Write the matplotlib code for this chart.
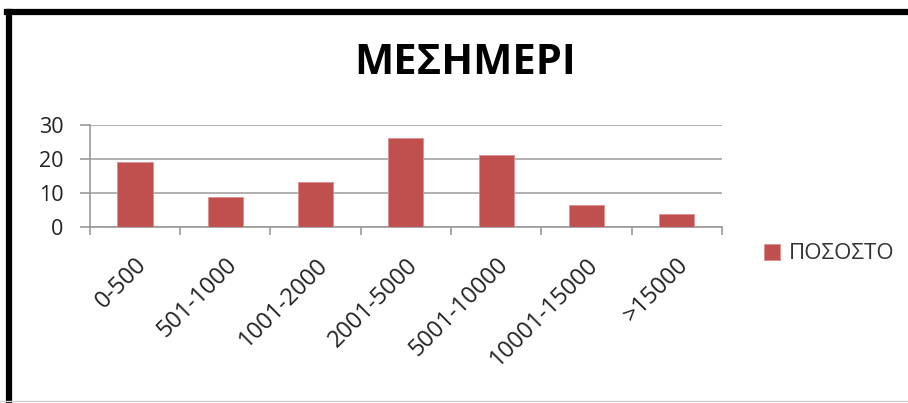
import matplotlib.pyplot as plt
from matplotlib.lines import Line2D

# data
categories = ['0-500', '501-1000', '1001-2000', '2001-5000', '5001-10000', '10001-15000', '>15000']
values = [19, 8.7, 13.2, 26.1, 21.1, 6.4, 3.7]
series_name = 'ΠΟΣΟΣΤΟ'
chart_title = 'ΜΕΣΗΜΕΡΙ'

plt.rcParams['font.family'] = ['Open Sans', 'DejaVu Sans']

fig = plt.figure(figsize=(9.08, 4.03), dpi=100)
ax = fig.add_axes([0.099, 0.4375, 0.696, 0.2525])

x = range(len(categories))
ax.bar(x, values, width=0.39, color='#C0504D', edgecolor='#D9908E', linewidth=0.6,
       label=series_name, zorder=3)

ax.set_xlim(-0.5, len(categories) - 0.5)
ax.set_ylim(0, 30)
ax.set_yticks([0, 10, 20, 30])
ax.yaxis.grid(True, color='#ABABAB', linewidth=1.3, zorder=0)

# category boundary ticks
ax.set_xticks([i - 0.5 for i in range(len(categories) + 1)])
ax.set_xticklabels([])
ax.set_xticks(list(x), minor=True)
ax.set_xticklabels(categories, minor=True, rotation=45, ha='right', rotation_mode='anchor',
                   fontsize=17, color='#222222')
ax.tick_params(axis='x', which='major', length=6, color='#9A9A9A', width=1.2)
ax.tick_params(axis='x', which='minor', length=0, pad=19)
ax.tick_params(axis='y', length=7, color='#9A9A9A', width=1.2, pad=12, labelsize=15.5,
               labelcolor='#222222')

for s in ['top', 'right']:
    ax.spines[s].set_visible(False)
for s in ['left', 'bottom']:
    ax.spines[s].set_color('#9A9A9A')
    ax.spines[s].set_linewidth(1.2)

fig.text(0.512, 0.843, chart_title, ha='center', va='center', fontsize=30,
         fontweight='bold', color='black')

leg = fig.legend(loc='center left', bbox_to_anchor=(0.819, 0.37), frameon=False,
                 fontsize=16, handlelength=0.75, handleheight=0.75, handletextpad=0.4)
for t in leg.get_texts():
    t.set_color('#333333')

# outer frame: thick black top and left edges, faint bottom line
fig.add_artist(Line2D([0.008, 1.0], [0.97, 0.97], color='black', linewidth=4.5,
                      transform=fig.transFigure))
fig.add_artist(Line2D([0.0095, 0.0095], [0.0, 0.97], color='black', linewidth=4.5,
                      transform=fig.transFigure))
fig.add_artist(Line2D([0.0, 1.0], [0.006, 0.006], color='#D0D0D0', linewidth=1.0,
                      transform=fig.transFigure))

fig.savefig('out.png', dpi=100)
